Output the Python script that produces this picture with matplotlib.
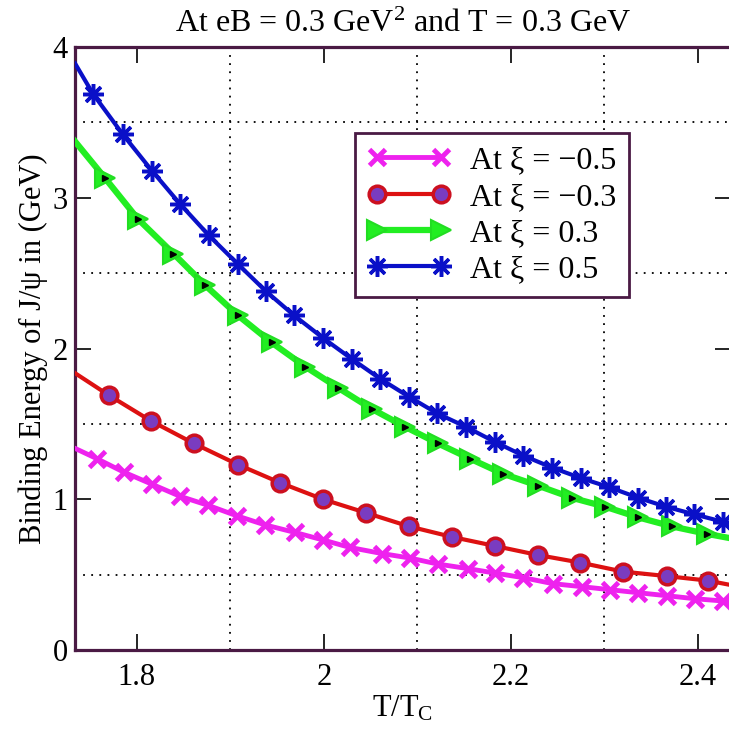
import matplotlib
matplotlib.use("Agg")
import matplotlib.pyplot as plt
from matplotlib.ticker import FixedLocator

plt.rcParams['font.family'] = ['Liberation Serif', 'DejaVu Serif']
plt.rcParams['mathtext.fontset'] = 'custom'
plt.rcParams['mathtext.rm'] = 'Liberation Serif'
plt.rcParams['mathtext.it'] = 'Liberation Serif:italic'

# binding energy curves, first/last entries are the values at the frame edges
xi_m05_x = [1.733, 1.757, 1.786, 1.816, 1.846, 1.876, 1.907, 1.937, 1.969, 1.999, 2.028, 2.062,
            2.092, 2.122, 2.154, 2.183, 2.213, 2.245, 2.276, 2.306, 2.336, 2.367, 2.397, 2.427, 2.436]
xi_m05_y = [1.34, 1.27, 1.18, 1.10, 1.02, 0.96, 0.89, 0.83, 0.78, 0.73, 0.68, 0.64,
            0.61, 0.57, 0.54, 0.51, 0.48, 0.44, 0.42, 0.40, 0.38, 0.36, 0.34, 0.325, 0.32]

xi_m03_x = [1.733, 1.770, 1.815, 1.861, 1.908, 1.953, 1.999, 2.045, 2.091, 2.137, 2.183, 2.229,
            2.274, 2.320, 2.367, 2.411, 2.436]
xi_m03_y = [1.84, 1.69, 1.52, 1.37, 1.23, 1.11, 1.00, 0.91, 0.82, 0.75, 0.69, 0.63,
            0.58, 0.52, 0.49, 0.46, 0.43]

xi_p03_x = [1.733, 1.766, 1.801, 1.839, 1.873, 1.908, 1.944, 1.980, 2.015, 2.051, 2.087, 2.122,
            2.156, 2.191, 2.229, 2.265, 2.301, 2.336, 2.372, 2.410, 2.436]
xi_p03_y = [3.38, 3.13, 2.86, 2.63, 2.42, 2.22, 2.04, 1.88, 1.74, 1.60, 1.48, 1.37,
            1.27, 1.17, 1.09, 1.01, 0.95, 0.88, 0.82, 0.77, 0.74]

xi_p05_x = [1.734, 1.753, 1.785, 1.816, 1.846, 1.877, 1.908, 1.938, 1.968, 1.999, 2.030, 2.060,
            2.091, 2.121, 2.152, 2.183, 2.213, 2.244, 2.275, 2.305, 2.336, 2.366, 2.396, 2.427, 2.436]
xi_p05_y = [3.89, 3.69, 3.42, 3.18, 2.96, 2.75, 2.56, 2.38, 2.22, 2.07, 1.93, 1.80,
            1.68, 1.57, 1.48, 1.38, 1.29, 1.21, 1.14, 1.08, 1.01, 0.95, 0.90, 0.85, 0.84]

x_major = [1.8, 2.0, 2.2, 2.4]
x_major_labels = ['1.8', '2', '2.2', '2.4']
x_minor = [1.9, 2.1, 2.3]
y_major = [0, 1, 2, 3, 4]
y_minor = [0.5, 1.5, 2.5, 3.5]

FRAME = '#4a1a44'

fig = plt.figure(figsize=(7.29, 7.31), dpi=100)
ax = fig.add_axes([0.1022, 0.1108, 0.9005, 0.8249])

inner = slice(1, -1)

ax.plot(xi_m05_x, xi_m05_y, color='#ee22ee', lw=3.5, marker='x', ms=12, mew=3.5,
        markevery=inner, label='At \u03be = \u22120.5', zorder=3)
ax.plot(xi_m03_x, xi_m03_y, color='#dd1111', lw=3, marker='o', ms=12, mew=2.5,
        mfc='#7a3cc0', mec='#cc1020', markevery=inner, label='At \u03be = \u22120.3', zorder=4)
ax.plot(xi_p03_x, xi_p03_y, color='#22ee22', lw=4.5, marker='>', ms=14, mew=1.5,
        mfc='#22ee22', mec='#22dd22', markevery=inner, label='At \u03be = 0.3', zorder=5)
ax.plot(xi_p03_x[inner], xi_p03_y[inner], ls='none', marker='>', ms=5, color='black', zorder=6)
ax.plot(xi_p05_x, xi_p05_y, color='#0a10c8', lw=3, marker=(8, 2, 0), ms=15, mew=2.5,
        markevery=inner, label='At \u03be = 0.5', zorder=7)

ax.set_xlim(1.7333, 2.4353)
ax.set_ylim(0, 4)

ax.xaxis.set_major_locator(FixedLocator(x_major))
ax.set_xticklabels(x_major_labels)
ax.yaxis.set_major_locator(FixedLocator(y_major))
ax.xaxis.set_minor_locator(FixedLocator(x_minor))
ax.yaxis.set_minor_locator(FixedLocator(y_minor))
ax.tick_params(which='major', direction='in', length=11.5, width=1.2, color='black',
               top=True, right=True, labelsize=22)
ax.tick_params(axis='x', which='major', pad=9)
ax.tick_params(axis='y', which='major', pad=5)
ax.tick_params(which='minor', length=0)
ax.grid(True, which='minor', color='black', ls=(0, (1, 3.5)), lw=1.3)
ax.grid(False, which='major')

for sp in ax.spines.values():
    sp.set_color(FRAME)
    sp.set_linewidth(2.3)

ax.set_xlabel('T/T$_\\mathrm{C}$', fontsize=22, labelpad=2)
ax.set_ylabel('Binding Energy of J/\u03c8 in (GeV)', fontsize=22, labelpad=3)
ax.set_title('At eB = 0.3 GeV$^\\mathrm{2}$ and T = 0.3 GeV', fontsize=23, pad=11)

leg = ax.legend(loc='upper left', bbox_to_anchor=(0.427, 0.857), fontsize=23, numpoints=2,
                handlelength=2.6, handletextpad=0.6, labelspacing=0.22, borderpad=0.4,
                fancybox=False, framealpha=1, edgecolor=FRAME, borderaxespad=0)
leg.get_frame().set_linewidth(2)

fig.savefig('out.png', dpi=100)
